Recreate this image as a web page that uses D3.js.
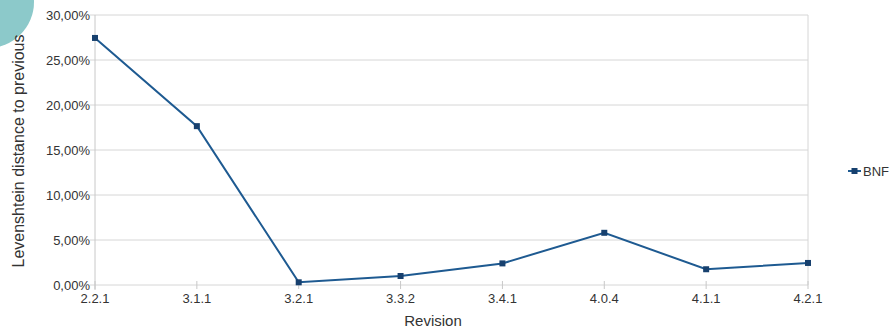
<!DOCTYPE html>
<html>
<head>
<meta charset="utf-8">
<script src="https://cdn.jsdelivr.net/npm/d3@7"></script>
<style>
  body { margin: 0; background: #fff; }
  text { font-family: "Liberation Sans", Arial, sans-serif; fill: #333; }
</style>
</head>
<body>
<div id="chart"></div>
<script>
// chart data
var revisions = ["2.2.1", "3.1.1", "3.2.1", "3.3.2", "3.4.1", "4.0.4", "4.1.1", "4.2.1"];
var bnfValues = [27.45, 17.65, 0.3, 1.0, 2.4, 5.8, 1.75, 2.45];
var yTicks = [0, 5, 10, 15, 20, 25, 30];
var seriesName = "BNF";

var margin = {top: 15, right: 87, bottom: 46, left: 95};
var width = 895 - margin.left - margin.right,
    height = 331 - margin.top - margin.bottom;

var svg = d3.select("#chart").append("svg")
    .attr("width", 895)
    .attr("height", 331);

// teal decoration in the corner
svg.append("circle")
    .attr("cx", -12)
    .attr("cy", 2)
    .attr("r", 46)
    .attr("fill", "#8cc9ca");

var g = svg.append("g")
    .attr("transform", "translate(" + margin.left + "," + margin.top + ")");

var x = d3.scalePoint().domain(revisions).range([0, width]);
var y = d3.scaleLinear().domain([0, 30]).range([height, 0]);

var fmt = function(d){ return d3.format(".2f")(d).replace(".", ",") + "%"; };

// gridlines
g.selectAll(".grid").data(yTicks).enter().append("line")
    .attr("x1", -5).attr("x2", width)
    .attr("y1", function(d){ return y(d); })
    .attr("y2", function(d){ return y(d); })
    .attr("stroke", "#d6d6d6");

// frame lines
g.append("line").attr("x1", 0).attr("x2", 0).attr("y1", 0).attr("y2", height + 5)
    .attr("stroke", "#c8c8c8");
g.append("line").attr("x1", width).attr("x2", width).attr("y1", 0).attr("y2", height)
    .attr("stroke", "#d6d6d6");

// x ticks
g.selectAll(".xtick").data(revisions).enter().append("line")
    .attr("x1", function(d){ return x(d); })
    .attr("x2", function(d){ return x(d); })
    .attr("y1", height - 4).attr("y2", height + 4)
    .attr("stroke", "#c8c8c8");

// y labels
g.selectAll(".ylabel").data(yTicks).enter().append("text")
    .attr("x", -5)
    .attr("y", function(d){ return y(d) + 5; })
    .attr("text-anchor", "end")
    .style("font-size", "13px")
    .text(fmt);

// x labels
g.selectAll(".xlabel").data(revisions).enter().append("text")
    .attr("x", function(d){ return x(d); })
    .attr("y", height + 18)
    .attr("text-anchor", "middle")
    .style("font-size", "13px")
    .text(function(d){ return d; });

// axis titles
svg.append("text")
    .attr("transform", "translate(24," + (margin.top + height / 2 + 1) + ") rotate(-90)")
    .attr("text-anchor", "middle")
    .style("font-size", "16px")
    .text("Levenshtein distance to previous");

svg.append("text")
    .attr("x", 433)
    .attr("y", 326)
    .attr("text-anchor", "middle")
    .style("font-size", "15px")
    .text("Revision");

// line
var line = d3.line()
    .x(function(d, i){ return x(revisions[i]); })
    .y(function(d){ return y(d); });

g.append("path")
    .datum(bnfValues)
    .attr("d", line)
    .attr("fill", "none")
    .attr("stroke", "#1e5a91")
    .attr("stroke-width", 2);

g.selectAll(".pt").data(bnfValues).enter().append("rect")
    .attr("x", function(d, i){ return x(revisions[i]) - 3; })
    .attr("y", function(d){ return y(d) - 3; })
    .attr("width", 6).attr("height", 6)
    .attr("fill", "#17406e");

// legend
var lg = svg.append("g").attr("transform", "translate(848,171)");
lg.append("line").attr("x1", 0).attr("x2", 13).attr("y1", 0).attr("y2", 0)
    .attr("stroke", "#1e5a91").attr("stroke-width", 2);
lg.append("rect").attr("x", 3.5).attr("y", -3).attr("width", 6).attr("height", 6)
    .attr("fill", "#17406e");
lg.append("text").attr("x", 15).attr("y", 5)
    .style("font-size", "13px")
    .text(seriesName);
</script>
</body>
</html>
